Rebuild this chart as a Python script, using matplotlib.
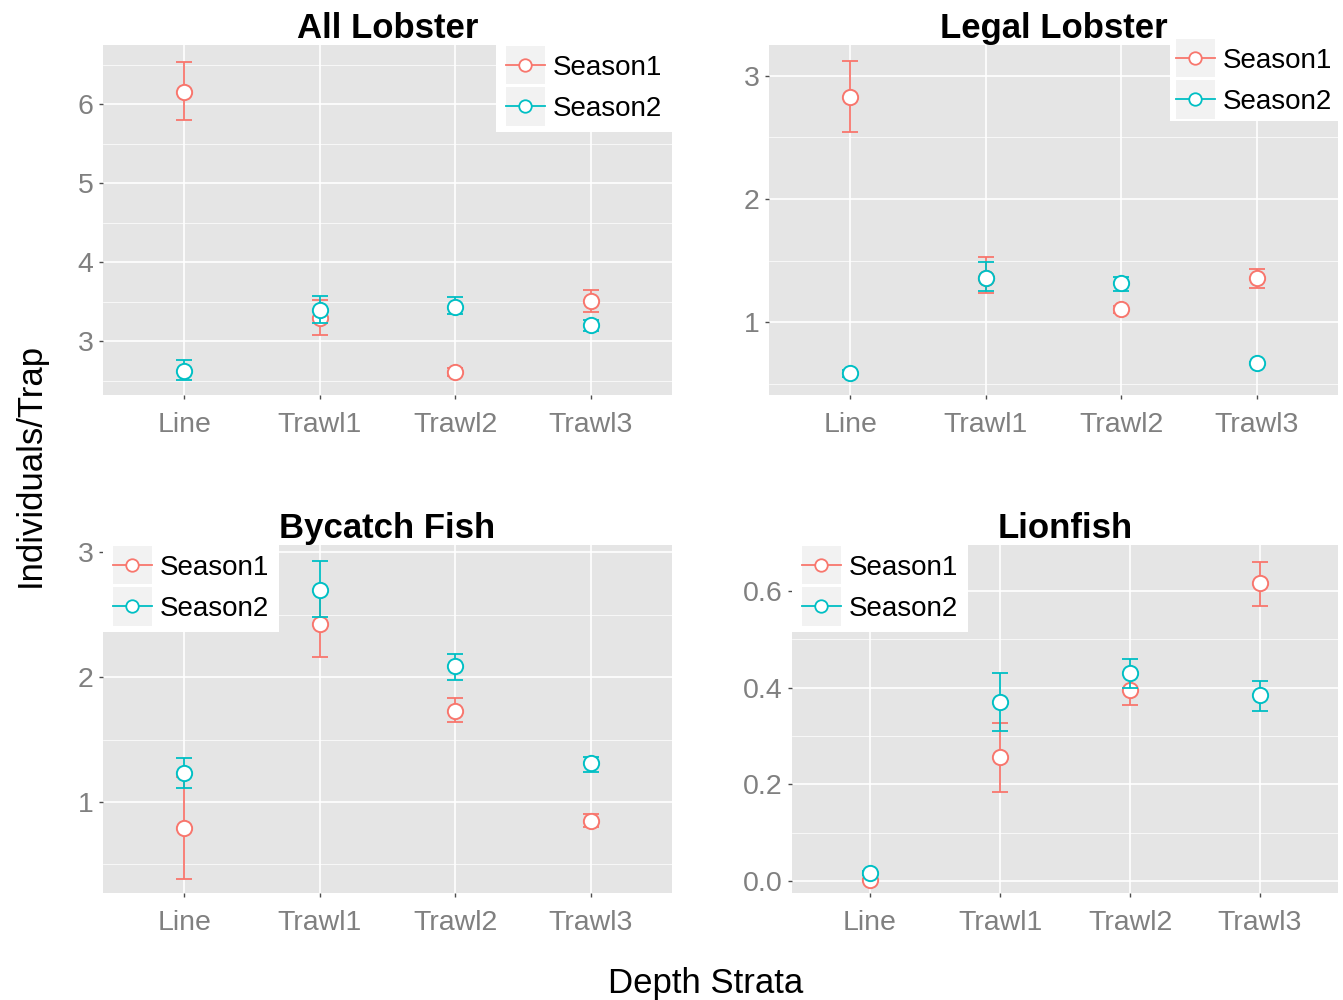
import matplotlib
matplotlib.use("Agg")
import matplotlib.pyplot as plt
import numpy as np
from matplotlib.lines import Line2D
from matplotlib.patches import Rectangle
from matplotlib.legend_handler import HandlerLine2D
from matplotlib.ticker import MultipleLocator, FormatStrFormatter

plt.rcParams['font.family'] = ['Liberation Sans', 'DejaVu Sans']

strata = ['Line', 'Trawl1', 'Trawl2', 'Trawl3']
seasons = ['Season1', 'Season2']
titles = ['All Lobster', 'Legal Lobster', 'Bycatch Fish', 'Lionfish']

# means, lower and upper error bounds per panel, per season
all_s1 = [6.15, 3.30, 2.61, 3.51]
all_s1_lo = [5.80, 3.08, 2.56, 3.37]
all_s1_hi = [6.53, 3.52, 2.66, 3.65]
all_s2 = [2.63, 3.40, 3.44, 3.20]
all_s2_lo = [2.51, 3.23, 3.35, 3.13]
all_s2_hi = [2.76, 3.57, 3.56, 3.27]

legal_s1 = [2.83, 1.36, 1.105, 1.36]
legal_s1_lo = [2.54, 1.24, 1.075, 1.28]
legal_s1_hi = [3.12, 1.53, 1.135, 1.43]
legal_s2 = [0.585, 1.36, 1.32, 0.67]
legal_s2_lo = [0.555, 1.25, 1.25, 0.66]
legal_s2_hi = [0.615, 1.49, 1.37, 0.68]

by_s1 = [0.79, 2.43, 1.73, 0.85]
by_s1_lo = [0.38, 2.16, 1.64, 0.80]
by_s1_hi = [1.20, 2.70, 1.83, 0.90]
by_s2 = [1.235, 2.70, 2.09, 1.31]
by_s2_lo = [1.11, 2.48, 1.98, 1.24]
by_s2_hi = [1.35, 2.93, 2.19, 1.36]

lion_s1 = [0.002, 0.257, 0.396, 0.617]
lion_s1_lo = [0.0, 0.183, 0.364, 0.569]
lion_s1_hi = [0.004, 0.326, 0.428, 0.66]
lion_s2 = [0.016, 0.370, 0.430, 0.385]
lion_s2_lo = [0.012, 0.311, 0.400, 0.352]
lion_s2_hi = [0.020, 0.430, 0.459, 0.414]

panels = [
    (all_s1, all_s1_lo, all_s1_hi, all_s2, all_s2_lo, all_s2_hi),
    (legal_s1, legal_s1_lo, legal_s1_hi, legal_s2, legal_s2_lo, legal_s2_hi),
    (by_s1, by_s1_lo, by_s1_hi, by_s2, by_s2_lo, by_s2_hi),
    (lion_s1, lion_s1_lo, lion_s1_hi, lion_s2, lion_s2_lo, lion_s2_hi),
]

colors = ['#F8766D', '#00BFC4']

# layout in pixels: left, right, top, bottom
W, H = 1343, 1000
boxes = [(103, 672, 45, 395), (769, 1338, 45, 395),
         (103, 672, 545, 893), (792, 1338, 545, 893)]
ylims = [(2.32, 6.75), (0.41, 3.25), (0.27, 3.06), (-0.025, 0.695)]
major = [1, 1, 1, 0.2]
fmts = ['%d', '%d', '%d', '%.1f']
leg_loc = [('upper right', (1, 1)), ('upper right', (1, 1.008)),
           ('upper left', (0, 1)), ('upper left', (0, 1))]
leg_pad = [0.35, 0.2, 0.35, 0.35]


class KeyHandler(HandlerLine2D):
    def create_artists(self, legend, orig_handle, xdescent, ydescent,
                       width, height, fontsize, trans):
        size = 28
        bg = Rectangle((-xdescent, -ydescent + height / 2 - size / 2), width, size,
                       facecolor='#F2F2F2', edgecolor='none', transform=trans)
        arts = super().create_artists(legend, orig_handle, xdescent, ydescent,
                                      width, height, fontsize, trans)
        return [bg] + list(arts)


fig = plt.figure(figsize=(W / 100, H / 100), dpi=100)
x = np.arange(len(strata))

for i, (l, r, t, b) in enumerate(boxes):
    ax = fig.add_axes([l / W, 1 - b / H, (r - l) / W, (b - t) / H])
    ax.set_facecolor('#E5E5E5')
    for s in ax.spines.values():
        s.set_visible(False)
    data = panels[i]
    for k in range(2):
        m = np.array(data[3 * k])
        lo = np.array(data[3 * k + 1])
        hi = np.array(data[3 * k + 2])
        ax.errorbar(x, m, yerr=[m - lo, hi - m], fmt='none', ecolor=colors[k],
                    elinewidth=1.3, capsize=6, capthick=1.3, zorder=3 + k)
        ax.plot(x, m, 'o', ms=11, mfc='white', mec=colors[k], mew=1.4,
                zorder=3.5 + k)
    ax.set_xlim(-0.6, 3.6)
    ax.set_ylim(*ylims[i])
    ax.set_xticks(x)
    ax.set_xticklabels(strata)
    ax.yaxis.set_major_locator(MultipleLocator(major[i]))
    ax.yaxis.set_minor_locator(MultipleLocator(major[i] / 2))
    ax.yaxis.set_major_formatter(FormatStrFormatter(fmts[i]))
    ax.grid(which='major', color='white', lw=1.2)
    ax.grid(which='minor', axis='y', color='white', lw=0.5)
    ax.set_axisbelow(True)
    ax.tick_params(which='major', length=3, width=1, color='#4D4D4D',
                   labelsize=20.5, labelcolor='#808080', pad=4)
    ax.tick_params(axis='x', pad=9)
    ax.tick_params(which='minor', length=0)
    ax.set_title(titles[i], fontsize=25, fontweight='bold', pad=4)

    handles = [Line2D([], [], color=c, marker='o', ms=9, mfc='white', mec=c,
                      mew=1.3, lw=1.3) for c in colors]
    loc, anchor = leg_loc[i]
    leg = ax.legend(handles, seasons, loc=loc, bbox_to_anchor=anchor,
                    fontsize=20, frameon=True, fancybox=False, facecolor='white',
                    edgecolor='none', framealpha=1, borderaxespad=0,
                    borderpad=leg_pad[i], labelspacing=0.55, handlelength=1.4,
                    handletextpad=0.3, numpoints=1,
                    handler_map={Line2D: KeyHandler()})
    leg.set_zorder(10)

fig.text(30 / W, 0.535, 'Individuals/Trap', rotation=90, fontsize=25,
         ha='center', va='center')
fig.text(706 / W, 0.017, 'Depth Strata', fontsize=25, ha='center', va='center')

fig.savefig('out.png', dpi=100)
